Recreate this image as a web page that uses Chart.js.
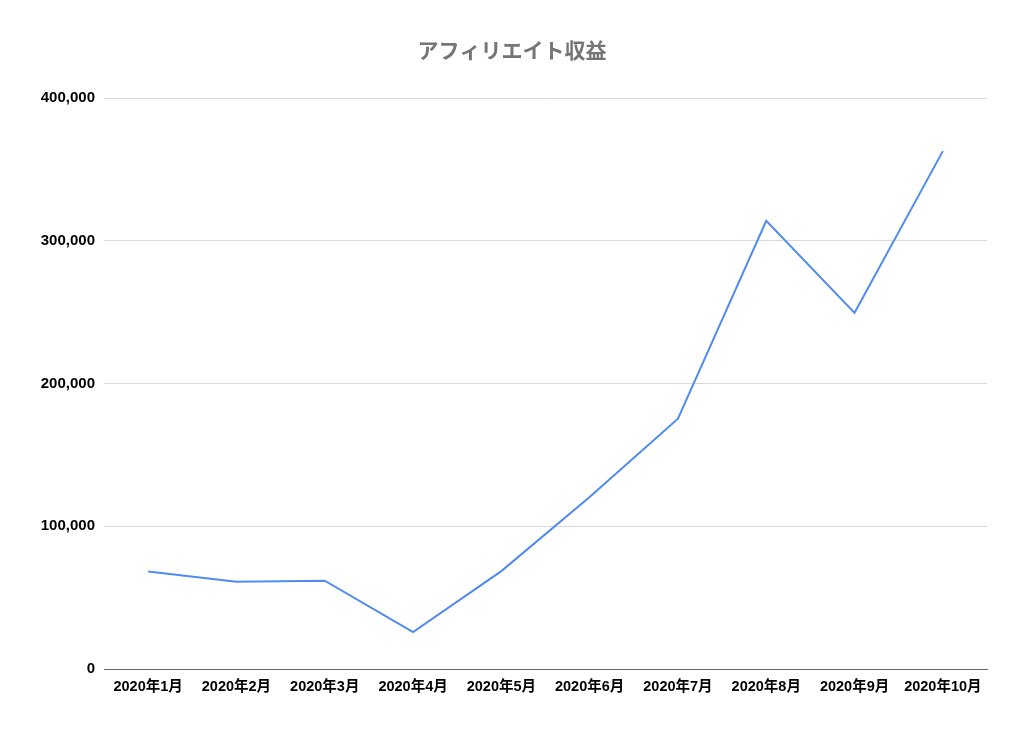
<!DOCTYPE html>
<html>
<head>
<meta charset="utf-8">
<script src="https://cdn.jsdelivr.net/npm/chart.js@4/dist/chart.umd.min.js"></script>
<style>
html,body{margin:0;padding:0;background:#fff;}
#wrap{width:1024px;height:730px;position:relative;}
</style>
</head>
<body>
<div id="wrap"><canvas id="c"></canvas></div>
<script>
const categories = ["2020年1月","2020年2月","2020年3月","2020年4月","2020年5月","2020年6月","2020年7月","2020年8月","2020年9月","2020年10月"];
const revenue = [68400, 61200, 61900, 25900, 68600, 120500, 175400, 314100, 249600, 362900];
const yTicks = [0, 100000, 200000, 300000, 400000];
const chartTitle = "アフィリエイト収益";

const FONT = "'Liberation Sans', 'Noto Sans CJK JP', Arial, sans-serif";

new Chart(document.getElementById('c'), {
  type: 'line',
  data: {
    labels: categories,
    datasets: [{
      data: revenue,
      borderColor: '#4f8bf0',
      borderWidth: 2,
      pointRadius: 0,
      pointHoverRadius: 0,
      tension: 0,
      fill: false
    }]
  },
  options: {
    responsive: true,
    maintainAspectRatio: false,
    animation: false,
    layout: { padding: { left: 37, right: 37, top: 0, bottom: 0 } },
    plugins: {
      legend: { display: false },
      tooltip: { enabled: false },
      title: {
        display: true,
        text: chartTitle,
        color: '#757575',
        font: { family: "'Noto Sans CJK JP', sans-serif", size: 21, weight: 'bold', lineHeight: 1.2 },
        padding: { top: 37, bottom: 36 }
      }
    },
    scales: {
      x: {
        offset: true,
        grid: { display: false, drawTicks: false },
        border: { display: true, color: '#666666', width: 1 },
        ticks: {
          color: '#000',
          font: { family: FONT, size: 14.5, weight: 'bold' },
          padding: 9,
          maxRotation: 0,
          autoSkip: false
        },
        afterFit: (s) => { s.height = 61; }
      },
      y: {
        min: 0,
        max: 400000,
        afterBuildTicks: (s) => { s.ticks = yTicks.map(v => ({ value: v })); },
        grid: { color: '#d9d9d9', drawTicks: false },
        border: { display: false },
        ticks: {
          color: '#000',
          font: { family: FONT, size: 15, weight: 'bold' },
          padding: 9,
          callback: (v) => Number(v).toLocaleString('en-US')
        },
        afterFit: (s) => { s.width = 67; }
      }
    }
  }
});
</script>
</body>
</html>
